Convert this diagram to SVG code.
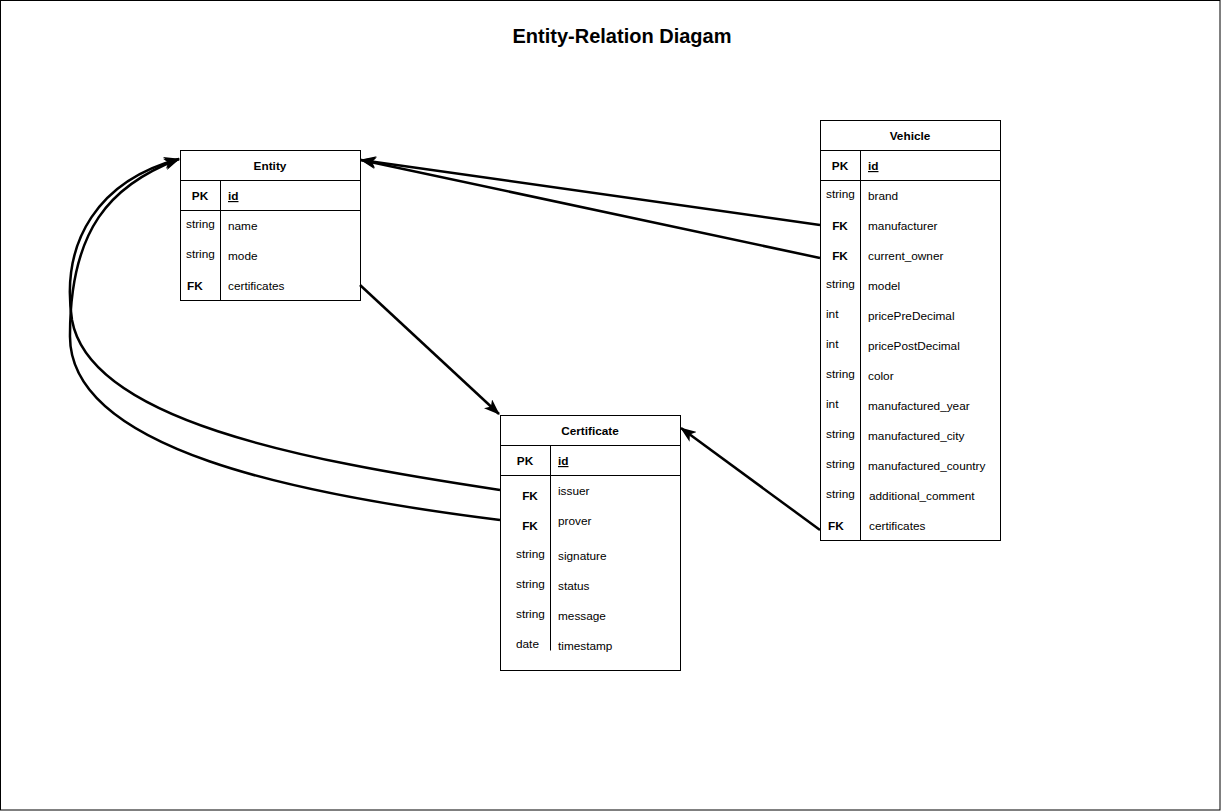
<svg xmlns="http://www.w3.org/2000/svg" width="1221" height="812" viewBox="0 0 1221 812">
<style>
.box{fill:#fff;stroke:#000;stroke-width:1}
.ln{stroke:#000;stroke-width:1;fill:none}
.t{font-family:"Liberation Sans",Arial,sans-serif;font-size:11.8px;fill:#000}
.b{font-weight:bold}
.c{text-anchor:middle}
.u{text-decoration:underline}
.con{stroke:#000;stroke-width:2.5;fill:none;marker-end:url(#arr)}
</style>
<defs>
<marker id="arr" markerUnits="userSpaceOnUse" viewBox="0 0 16 12" markerWidth="16" markerHeight="12" refX="15" refY="6" orient="auto">
<path d="M0,0 L16,6 L0,12 L4,6 Z" fill="#000"/>
</marker>
</defs>
<rect x="0.5" y="0.5" width="1219.5" height="809.5" fill="#fff" stroke="#000" stroke-width="1"/>
<text x="622" y="43" class="t b c" style="font-size:20px">Entity-Relation Diagam</text>

<g id="entity">
<rect class="box" x="180.5" y="150.5" width="180" height="150"/>
<line class="ln" x1="180.5" y1="180.5" x2="360.5" y2="180.5"/>
<line class="ln" x1="180.5" y1="210.5" x2="360.5" y2="210.5"/>
<line class="ln" x1="220.5" y1="180.5" x2="220.5" y2="300.5"/>
<text x="270" y="170" class="t b c">Entity</text>
<text x="200" y="200" class="t b c">PK</text>
<text x="228" y="200" class="t b u">id</text>
<text x="186" y="228" class="t">string</text><text x="228" y="230" class="t">name</text>
<text x="186" y="258" class="t">string</text><text x="228" y="260" class="t">mode</text>
<text x="187" y="290" class="t b">FK</text><text x="228" y="290" class="t">certificates</text>
</g>

<g id="certificate">
<rect class="box" x="500.5" y="415.5" width="180" height="255"/>
<line class="ln" x1="500.5" y1="445.5" x2="680.5" y2="445.5"/>
<line class="ln" x1="500.5" y1="475.5" x2="680.5" y2="475.5"/>
<line class="ln" x1="550.5" y1="445.5" x2="550.5" y2="650.5"/>
<text x="590" y="435" class="t b c">Certificate</text>
<text x="525" y="465" class="t b c">PK</text>
<text x="558" y="465" class="t b u">id</text>
<text x="530" y="500" class="t b c">FK</text><text x="558" y="495" class="t">issuer</text>
<text x="530" y="530" class="t b c">FK</text><text x="558" y="525" class="t">prover</text>
<text x="516" y="558" class="t">string</text><text x="558" y="560" class="t">signature</text>
<text x="516" y="588" class="t">string</text><text x="558" y="590" class="t">status</text>
<text x="516" y="618" class="t">string</text><text x="558" y="620" class="t">message</text>
<text x="516" y="648" class="t">date</text><text x="558" y="650" class="t">timestamp</text>
</g>

<g id="vehicle">
<rect class="box" x="820.5" y="120.5" width="180" height="420"/>
<line class="ln" x1="820.5" y1="150.5" x2="1000.5" y2="150.5"/>
<line class="ln" x1="820.5" y1="180.5" x2="1000.5" y2="180.5"/>
<line class="ln" x1="860.5" y1="150.5" x2="860.5" y2="540.5"/>
<text x="910" y="140" class="t b c">Vehicle</text>
<text x="840" y="170" class="t b c">PK</text>
<text x="868" y="170" class="t b u">id</text>
<text x="826" y="198" class="t">string</text><text x="868" y="200" class="t">brand</text>
<text x="840" y="230" class="t b c">FK</text><text x="868" y="230" class="t">manufacturer</text>
<text x="840" y="260" class="t b c">FK</text><text x="868" y="260" class="t">current_owner</text>
<text x="826" y="288" class="t">string</text><text x="868" y="290" class="t">model</text>
<text x="826" y="318" class="t">int</text><text x="868" y="320" class="t">pricePreDecimal</text>
<text x="826" y="348" class="t">int</text><text x="868" y="350" class="t">pricePostDecimal</text>
<text x="826" y="378" class="t">string</text><text x="868" y="380" class="t">color</text>
<text x="826" y="408" class="t">int</text><text x="868" y="410" class="t">manufactured_year</text>
<text x="826" y="438" class="t">string</text><text x="868" y="440" class="t">manufactured_city</text>
<text x="826" y="468" class="t">string</text><text x="868" y="470" class="t">manufactured_country</text>
<text x="826" y="498" class="t">string</text><text x="869" y="500" class="t">additional_comment</text>
<text x="828" y="530" class="t b">FK</text><text x="869" y="530" class="t">certificates</text>
</g>

<g id="connectors">
<path class="con" d="M820,225 L361,160"/>
<path class="con" d="M820,258 L361,160"/>
<path class="con" d="M360,285 L499,414"/>
<path class="con" d="M820,530 L681,428"/>
<path class="con" d="M500,490 C 300,460 90,420 72,320 C 60,240 100,180 179,159"/>
<path class="con" d="M500,520 C 300,495 68,450 70,335 C 70,230 110,185 179,159"/>
</g>
</svg>
